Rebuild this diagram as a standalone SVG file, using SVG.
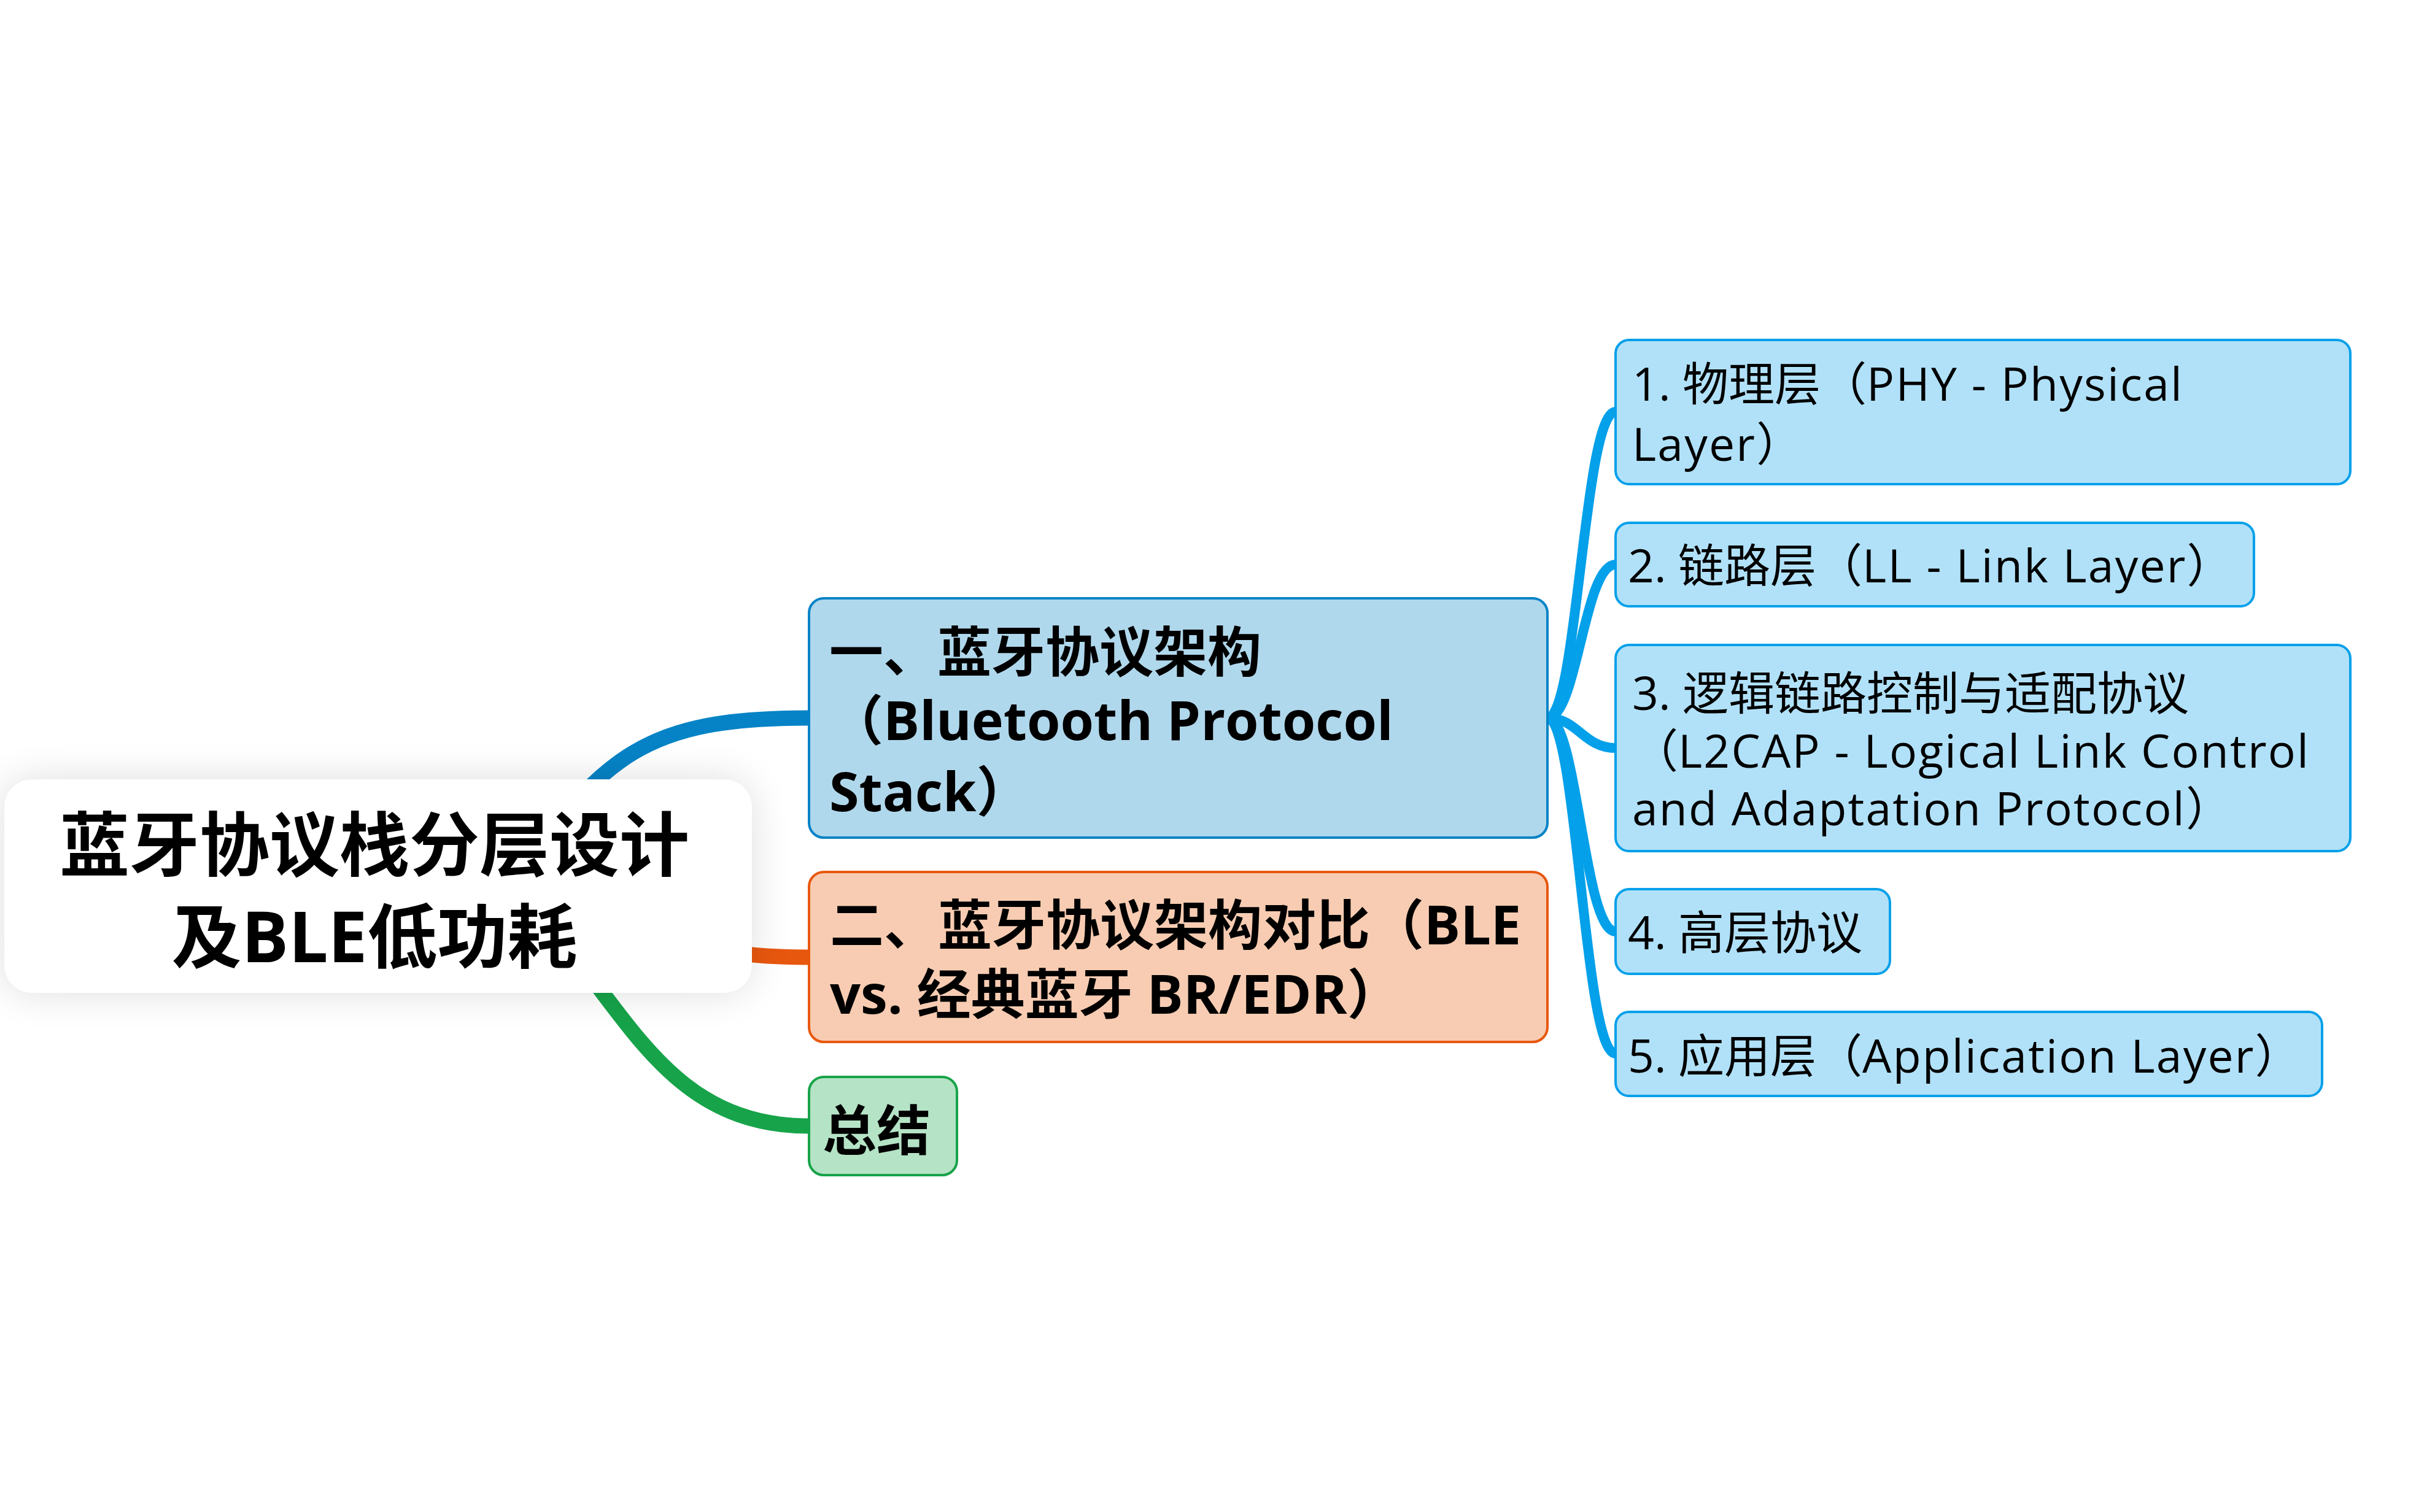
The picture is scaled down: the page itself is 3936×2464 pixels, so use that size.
<svg xmlns="http://www.w3.org/2000/svg" width="3936" height="2464" viewBox="0 0 3936 2464">
  <defs>
    <filter id="soft-shadow" x="-20%" y="-40%" width="140%" height="180%">
      <feGaussianBlur stdDeviation="32"/>
    </filter>
    <style>
      text { font-family: "Open Sans", "Noto Sans CJK SC", "Noto Sans", sans-serif; fill: #000; }
      .t-root { font-size: 114px; font-weight: 700; }
      .t-main { font-size: 88px; font-weight: 700; }
      .t-sub { font-size: 75px; font-weight: 400; }
      .lat { letter-spacing: 2.2px; }
      .b-root { fill: #ffffff; }
      .b-blue { fill: #B0D8EC; stroke: #0683C6; stroke-width: 4; }
      .b-orange { fill: #F7CCB2; stroke: #E8570E; stroke-width: 4; }
      .b-green { fill: #B5E3C6; stroke: #17A34A; stroke-width: 4; }
      .b-sub { fill: #B1E1F8; stroke: #04A0EA; stroke-width: 4; }
      .c-main { fill: none; stroke-width: 25; stroke-linecap: butt; }
      .c-sub { fill: none; stroke: #04A0EA; stroke-width: 16; stroke-linecap: round; }
    </style>
  </defs>

  <rect width="3936" height="2464" fill="#ffffff"/>

  <!-- branch lines -->
  <g id="connectors">
    <path class="c-main" stroke="#0683C6" d="M 830 1443 C 985 1230, 1050 1170, 1318 1170"/>
    <path class="c-main" stroke="#E8570E" d="M 830 1443 C 1000 1500, 1100 1560, 1318 1560"/>
    <path class="c-main" stroke="#17A34A" d="M 830 1443 C 1010 1600, 1060 1835, 1318 1835"/>
    <path class="c-sub" d="M 2521 1170 C 2570 1170, 2580 671, 2632 671"/>
    <path class="c-sub" d="M 2521 1170 C 2570 1170, 2580 920, 2632 920"/>
    <path class="c-sub" d="M 2521 1170 C 2570 1170, 2580 1219, 2632 1219"/>
    <path class="c-sub" d="M 2521 1170 C 2570 1170, 2580 1518, 2632 1518"/>
    <path class="c-sub" d="M 2521 1170 C 2570 1170, 2580 1717, 2632 1717"/>
  </g>

  <!-- central topic -->
  <g id="root">
    <rect x="7" y="1270" width="1218" height="348" rx="45" fill="#000" opacity="0.13" filter="url(#soft-shadow)"/>
    <rect class="b-root" x="7" y="1270" width="1218" height="348" rx="45"/>
    <text class="t-root" x="610" y="1418" text-anchor="middle">蓝牙协议栈分层设计</text>
    <text class="t-root" x="610" y="1568" text-anchor="middle">及BLE低功耗</text>
  </g>

  <g id="node-architecture">
    <rect class="b-blue" x="1318" y="975" width="1203" height="390" rx="24"/>
    <text class="t-main" x="1351" y="1094">一、蓝牙协议架构</text>
    <text class="t-main" x="1351" y="1206">（Bluetooth Protocol</text>
    <text class="t-main" x="1351" y="1322">Stack）</text>
  </g>

  <g id="node-compare">
    <rect class="b-orange" x="1318" y="1421" width="1203" height="277" rx="24"/>
    <text class="t-main" x="1352" y="1539">二、蓝牙协议架构对比（BLE</text>
    <text class="t-main" x="1352" y="1652">vs. 经典蓝牙 BR/EDR）</text>
  </g>

  <g id="node-summary">
    <rect class="b-green" x="1318" y="1755" width="241" height="160" rx="24"/>
    <text class="t-main" x="1340" y="1874">总结</text>
  </g>

  <g id="node-phy">
    <rect class="b-sub" x="2632" y="554" width="1197" height="235" rx="22"/>
    <text class="t-sub" x="2659" y="653">1. 物理层（<tspan class="lat">PHY - Physical</tspan></text>
    <text class="t-sub" x="2659" y="751"><tspan class="lat">Layer</tspan>）</text>
  </g>

  <g id="node-ll">
    <rect class="b-sub" x="2632" y="852" width="1040" height="136" rx="22"/>
    <text class="t-sub" x="2652" y="949">2. 链路层（<tspan class="lat">LL - Link Layer</tspan>）</text>
  </g>

  <g id="node-l2cap">
    <rect class="b-sub" x="2632" y="1051" width="1197" height="336" rx="22"/>
    <text class="t-sub" x="2659" y="1157">3. 逻辑链路控制与适配协议</text>
    <text class="t-sub" x="2659" y="1251">（<tspan class="lat">L2CAP - Logical Link Control</tspan></text>
    <text class="t-sub" x="2659" y="1345"><tspan class="lat">and Adaptation Protocol</tspan>）</text>
  </g>

  <g id="node-upper">
    <rect class="b-sub" x="2632" y="1449" width="447" height="138" rx="22"/>
    <text class="t-sub" x="2652" y="1547">4. 高层协议</text>
  </g>

  <g id="node-app">
    <rect class="b-sub" x="2632" y="1649" width="1151" height="137" rx="22"/>
    <text class="t-sub" x="2652" y="1748">5. 应用层（<tspan class="lat">Application Layer</tspan>）</text>
  </g>
</svg>
